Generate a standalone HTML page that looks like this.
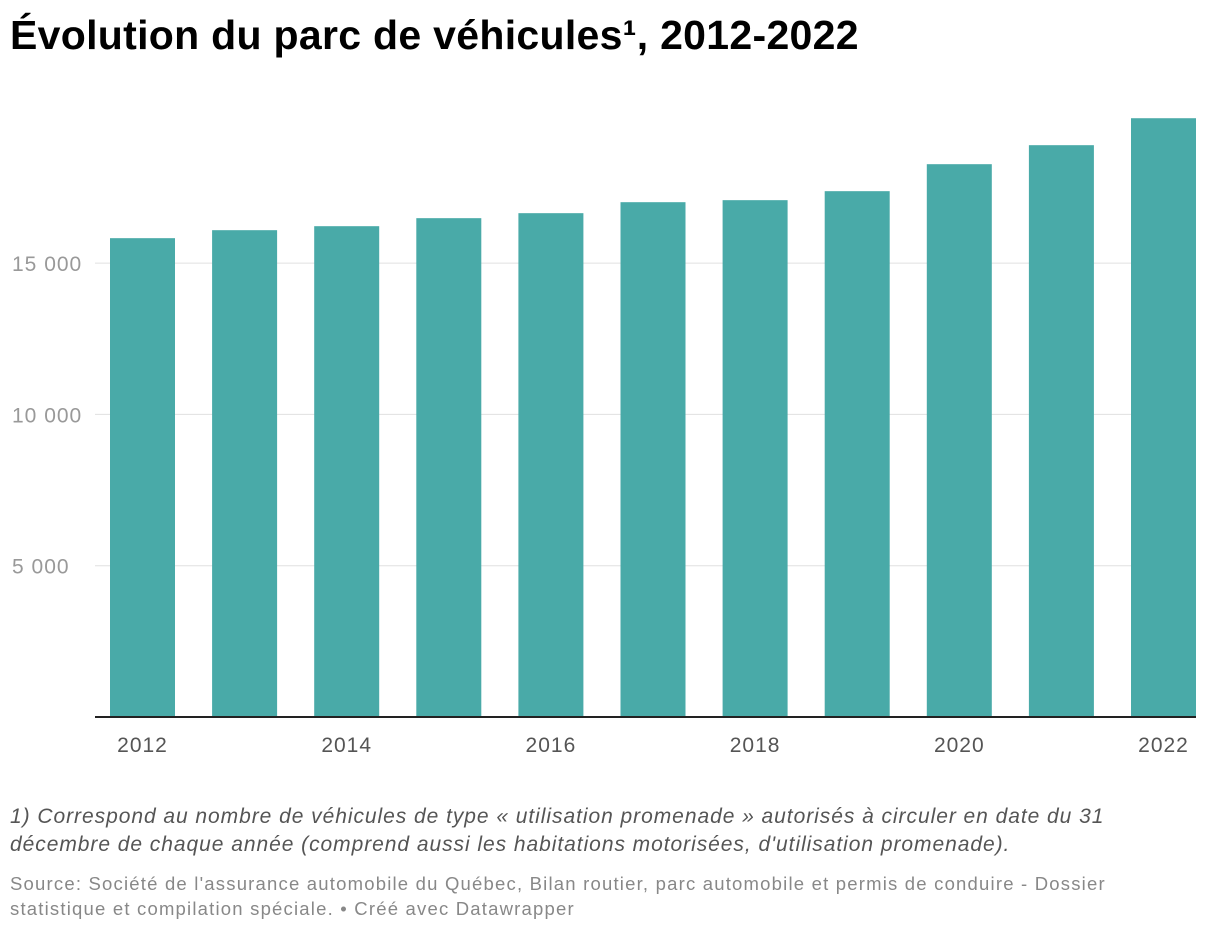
<!DOCTYPE html>
<html><head><meta charset="utf-8"><style>
body{margin:0;background:#fff;width:1220px;height:932px;overflow:hidden;font-family:"Liberation Sans",sans-serif;}
h1{position:absolute;left:10px;top:12px;margin:0;font-size:41px;font-weight:bold;color:#000;letter-spacing:0.3px;white-space:nowrap}
.note{position:absolute;left:10px;top:803px;font-size:21px;font-style:italic;color:#555;line-height:28px;white-space:nowrap;letter-spacing:0.95px}
.src{position:absolute;left:10px;top:871px;font-size:18.5px;color:#888;line-height:25px;white-space:nowrap;letter-spacing:1.2px}
svg{position:absolute;left:0;top:0}
</style></head><body>
<h1>Évolution du parc de véhicules¹, 2012-2022</h1>
<svg id="chart" width="1220" height="790"></svg>
<div class="note">1) Correspond au nombre de véhicules de type « utilisation promenade » autorisés à circuler en date du 31<br>décembre de chaque année (comprend aussi les habitations motorisées, d'utilisation promenade).</div>
<div class="src">Source: Société de l'assurance automobile du Québec, Bilan routier, parc automobile et permis de conduire - Dossier<br>statistique et compilation spéciale. • Créé avec Datawrapper</div>
<script>
const years=[2012,2013,2014,2015,2016,2017,2018,2019,2020,2021,2022];
const values=[15824,16088,16220,16485,16650,17013,17080,17377,18269,18897,19788];
const yTicks=[5000,10000,15000];
const yTickLabels=["5 000","10 000","15 000"];
const xLabelYears=[2012,2014,2016,2018,2020,2022];
const NS="http://www.w3.org/2000/svg";
const svg=document.getElementById('chart');
const x0=95,x1=1196,yBase=717,pxPer=151.3/5000;
const bandStart=110,pitch=102.1,bw=65;
const y=v=>yBase-v*pxPer;
const xb=i=>bandStart+i*pitch;
function mk(t,a){const e=document.createElementNS(NS,t);for(const k in a)e.setAttribute(k,a[k]);svg.appendChild(e);return e;}
yTicks.forEach((t,i)=>{
 const g=mk('line',{x1:x0,x2:x1,y1:y(t),y2:y(t),stroke:'#e0e0e0','stroke-width':1});
 
 
 const l=mk('text',{x:12,y:y(t)+8,'font-size':21,'letter-spacing':1,fill:'#999'});
 l.textContent=yTickLabels[i];
 
 
});
values.forEach((v,i)=>{
 const r=mk('rect',{x:xb(i),y:y(v),width:bw,height:yBase-y(v),fill:'#49aaa8'});
 
 
});
const ax=mk('line',{x1:x0,x2:x1,y1:yBase,y2:yBase,stroke:'#222','stroke-width':2});


xLabelYears.forEach(yr=>{
 const i=years.indexOf(yr);
 const t=mk('text',{x:xb(i)+bw/2,y:752,'font-size':21,'letter-spacing':1,fill:'#555','text-anchor':'middle'});
 t.textContent=yr;
 
 
});
</script>
</body></html>
